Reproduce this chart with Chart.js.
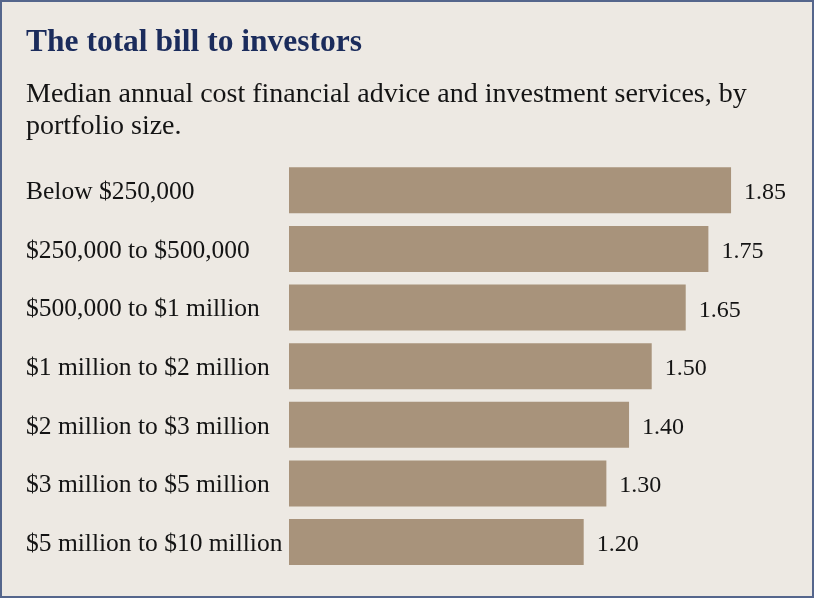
<!DOCTYPE html>
<html>
<head>
<meta charset="utf-8">
<script src="https://cdn.jsdelivr.net/npm/chart.js@4/dist/chart.umd.min.js"></script>
<style>
  html, body { margin: 0; padding: 0; background: #ede9e3; }
  #wrap { position: relative; width: 814px; height: 598px; box-sizing: border-box; border: 2px solid #55668c; background: #ede9e3; }
  #c { display: block; }
</style>
</head>
<body>
<div id="wrap"><canvas id="c" width="810" height="594"></canvas></div>
<script>
const categories = [
  "Below $250,000",
  "$250,000 to $500,000",
  "$500,000 to $1 million",
  "$1 million to $2 million",
  "$2 million to $3 million",
  "$3 million to $5 million",
  "$5 million to $10 million"
];
const costs = [1.85, 1.75, 1.65, 1.50, 1.40, 1.30, 1.20];
const valueLabels = ["1.85", "1.75", "1.65", "1.50", "1.40", "1.30", "1.20"];
const titleText = "The total bill to investors";
const subtitleLines = [
  "Median annual cost financial advice and investment services, by",
  "portfolio size."
];

const SERIF = "'Liberation Serif', 'Times New Roman', serif";

const valueLabelPlugin = {
  id: 'valueLabels',
  afterDatasetsDraw(chart) {
    const ctx = chart.ctx;
    const meta = chart.getDatasetMeta(0);
    ctx.save();
    ctx.font = "24px " + SERIF;
    ctx.fillStyle = "#141414";
    ctx.textAlign = "left";
    ctx.textBaseline = "alphabetic";
    meta.data.forEach((bar, i) => {
      ctx.fillText(valueLabels[i], bar.x + 13, bar.y + 9);
    });
    ctx.restore();
  }
};

new Chart(document.getElementById('c'), {
  type: 'bar',
  data: {
    labels: categories,
    datasets: [{
      data: costs,
      backgroundColor: '#a8937b',
      borderWidth: 0,
      barPercentage: 0.784,
      categoryPercentage: 1.0,
      base: -0.1
    }]
  },
  plugins: [valueLabelPlugin],
  options: {
    indexAxis: 'y',
    responsive: false,
    animation: false,
    layout: { padding: { left: 24, right: 1.6, top: 0, bottom: 24.6 } },
    plugins: {
      legend: { display: false },
      tooltip: { enabled: false },
      title: {
        display: true,
        text: titleText,
        align: 'start',
        color: '#1b2c5c',
        font: { family: SERIF, size: 31.5, weight: 'bold', lineHeight: 1.2 },
        padding: { top: 22, bottom: 0 }
      },
      subtitle: {
        display: true,
        text: subtitleLines,
        align: 'start',
        color: '#141414',
        font: { family: SERIF, size: 28, weight: 'normal', lineHeight: 1.14 },
        padding: { top: 17, bottom: 18.3 }
      }
    },
    scales: {
      x: {
        display: false,
        min: -0.1,
        max: 2.2
      },
      y: {
        afterFit(scale) { scale.width = 263; },
        grid: { display: false, drawTicks: false },
        border: { display: false },
        ticks: {
          crossAlign: 'far',
          color: '#141414',
          padding: 9,
          labelOffset: 2,
          font: { family: SERIF, size: 25.5 }
        }
      }
    }
  }
});
</script>
</body>
</html>
